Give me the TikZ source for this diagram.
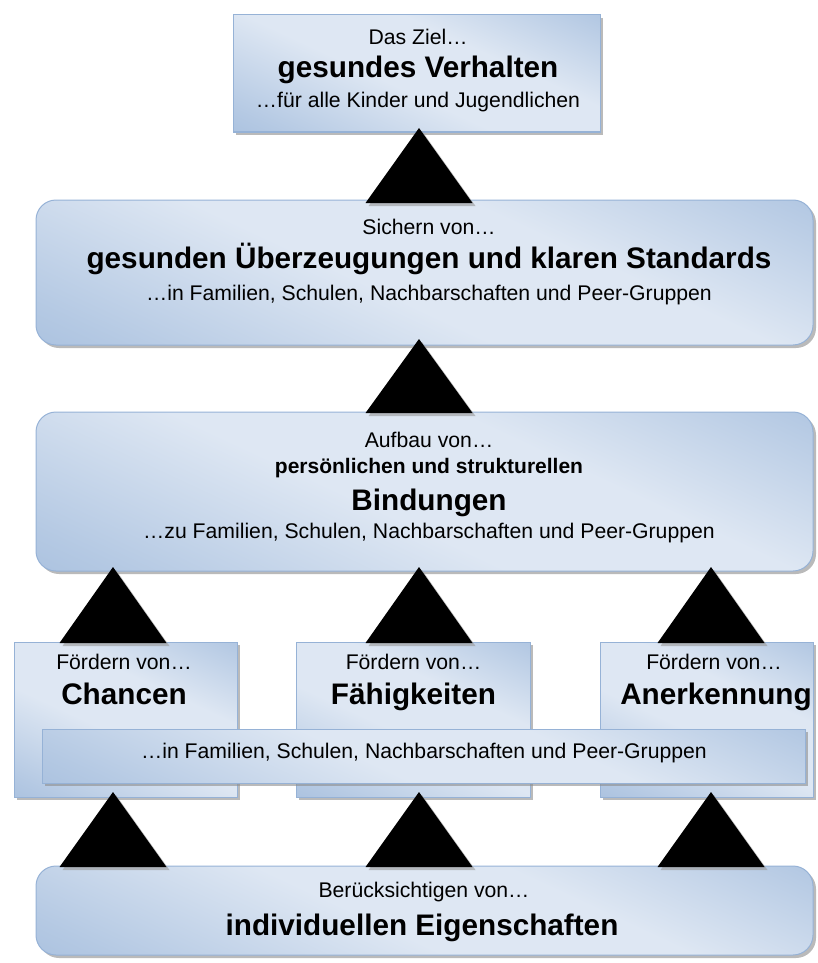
\documentclass[tikz,border=0pt]{standalone}
\usepackage{fontspec}
\setmainfont{Liberation Sans}
\usetikzlibrary{shadows}
\definecolor{blight}{RGB}{222,231,243}
\definecolor{bdark}{RGB}{146,176,214}
\definecolor{bborder}{RGB}{150,178,214}
\pgfdeclareverticalshading{office}{100bp}{color(0bp)=(bdark); color(22bp)=(bdark!55!blight); color(45bp)=(blight); color(62bp)=(blight); color(82bp)=(bdark!55!blight); color(100bp)=(bdark)}
\tikzset{
  panel/.style={draw=bborder, line width=1pt, shading=office, shading angle=-25,
    inner sep=0pt, minimum width=#1,
    drop shadow={shadow xshift=3pt, shadow yshift=-3pt, fill=black!45, opacity=0.6}},
  roundpanel/.style={panel=#1, rounded corners=20pt},
  sq/.style={panel=#1},
  smalltxt/.style={font=\fontsize{21.2}{25}\selectfont, anchor=base, inner sep=0pt},
  midtxt/.style={font=\fontsize{21}{25}\selectfont\bfseries, anchor=base, inner sep=0pt},
  bigtxt/.style={font=\fontsize{29.7}{35}\selectfont\bfseries, anchor=base, inner sep=0pt},
  tri/.style={fill=black, drop shadow={shadow xshift=3pt, shadow yshift=-3pt, fill=black!40, opacity=0.6}}
}
\newcommand{\uptri}[3]{% center x, apex y, base y
  \path[tri] (#1-53.5,#3) -- (#1,#2) -- (#1+53.5,#3) -- cycle;}
\begin{document}
\begin{tikzpicture}[x=1pt,y=-1pt]
\useasboundingbox (0,0) rectangle (818,963);
% boxes
\node[sq=367, minimum height=117] (goal) at (416.5,73.5) {};
\node[roundpanel=777, minimum height=145] (belief) at (424.5,272.5) {};
\node[roundpanel=777, minimum height=159] (bond) at (424.5,491.5) {};
\node[sq=223, minimum height=155] (chan) at (125.5,719.5) {};
\node[sq=234, minimum height=155] (skill) at (413,719.5) {};
\node[sq=213, minimum height=155] (recog) at (706.5,719.5) {};
\node[sq=763, minimum height=54] (band) at (423.5,756) {};
\node[roundpanel=777, minimum height=89] (indiv) at (424.5,910.5) {};
% texts
\node[smalltxt] (g1) at (418,45) {Das Ziel…};
\node[bigtxt] (g2) at (418,78) {gesundes Verhalten};
\node[smalltxt] (g3) at (418,108) {…für alle Kinder und Jugendlichen};
\node[smalltxt] (b1) at (429,234) {Sichern von…};
\node[bigtxt] (b2) at (429,268) {gesunden Überzeugungen und klaren Standards};
\node[smalltxt] (b3) at (429,300) {…in Familien, Schulen, Nachbarschaften und Peer-Gruppen};
\node[smalltxt] (d1) at (429,447) {Aufbau von…};
\node[midtxt] (d2) at (429,473) {persönlichen und strukturellen};
\node[bigtxt] (d3) at (429,510) {Bindungen};
\node[smalltxt] (d4) at (429,538) {…zu Familien, Schulen, Nachbarschaften und Peer-Gruppen};
\node[smalltxt] (c1) at (124,669) {Fördern von…};
\node[bigtxt] (c2) at (124,704) {Chancen};
\node[smalltxt] (s1) at (413.5,669) {Fördern von…};
\node[bigtxt] (s2) at (413.5,704) {Fähigkeiten};
\node[smalltxt] (r1) at (714,669) {Fördern von…};
\node[bigtxt] (r2) at (716,704) {Anerkennung};
\node[smalltxt] (n1) at (424,758) {…in Familien, Schulen, Nachbarschaften und Peer-Gruppen};
\node[smalltxt] (i1) at (424,897) {Berücksichtigen von…};
\node[bigtxt] (i2) at (422,935) {individuellen Eigenschaften};
% triangles
\uptri{419}{128}{203}
\uptri{419}{339}{413}
\uptri{113}{567}{643}
\uptri{419}{567}{643}
\uptri{711}{567}{643}
\uptri{113}{792}{867}
\uptri{419}{792}{867}
\uptri{711}{792}{867}
\end{tikzpicture}
\end{document}
